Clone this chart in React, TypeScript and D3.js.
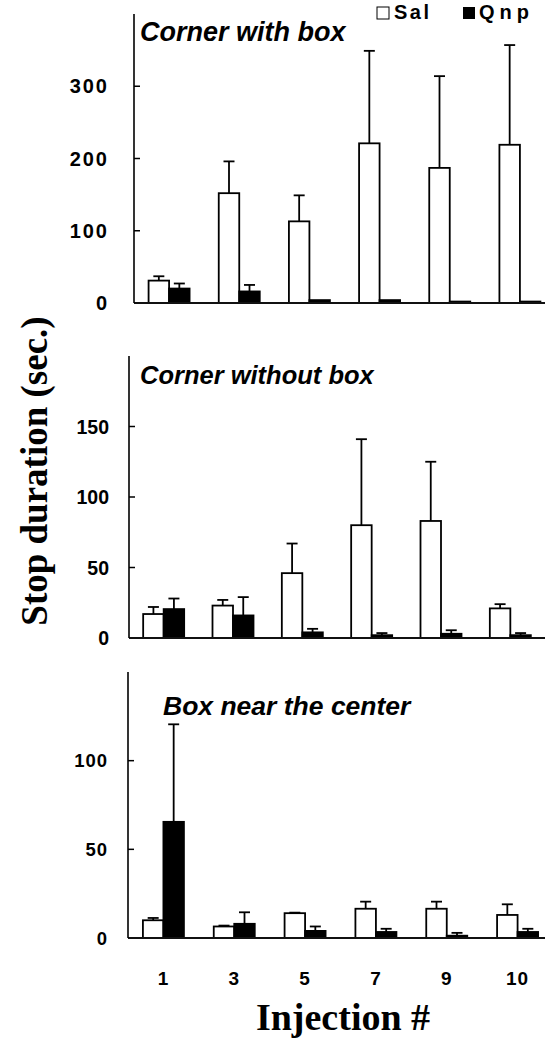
import React from "react";
import * as d3 from "d3";

const injections = ["1", "3", "5", "7", "9", "10"];
const seriesNames = ["Sal", "Qnp"];

const cornerBoxSal = [31, 152, 113, 221, 187, 219];
const cornerBoxSalErr = [6, 44, 36, 128, 127, 138];
const cornerBoxQnp = [20, 16, 4, 4, 2, 2];
const cornerBoxQnpErr = [7, 9, 0, 0, 0, 0];

const cornerNoBoxSal = [17, 23, 46, 80, 83, 21];
const cornerNoBoxSalErr = [5, 4, 21, 61, 42, 3];
const cornerNoBoxQnp = [20.5, 16, 4, 2, 3, 2];
const cornerNoBoxQnpErr = [7.5, 13, 2.5, 1.5, 2.5, 1.5];

const centerBoxSal = [10, 6.5, 14, 16.5, 16.5, 13];
const centerBoxSalErr = [1.3, 0.5, 0.3, 4, 4, 6];
const centerBoxQnp = [65.5, 8, 4, 3.4, 1.3, 3.4];
const centerBoxQnpErr = [55, 6.5, 2.5, 1.8, 1.6, 1.8];

const topTicks = [0, 100, 200, 300];
const midTicks = [0, 50, 100, 150];
const botTicks = [0, 50, 100];

const panels = [
  {
    title: "Corner with box",
    sal: cornerBoxSal, salErr: cornerBoxSalErr, qnp: cornerBoxQnp, qnpErr: cornerBoxQnpErr,
    ticks: topTicks, max: 400,
    x0: 134, x1: 555, yTop: 14, yBot: 303,
    titleX: 140, titleY: 41, titleSize: 27, labelSize: 20, labelRight: 109, labelSpacing: 2,
  },
  {
    title: "Corner without box",
    sal: cornerNoBoxSal, salErr: cornerNoBoxSalErr, qnp: cornerNoBoxQnp, qnpErr: cornerNoBoxQnpErr,
    ticks: midTicks, max: 200,
    x0: 129, x1: 545, yTop: 356, yBot: 638,
    titleX: 140, titleY: 384, titleSize: 25.5, labelSize: 19.5, labelRight: 109, labelSpacing: 0,
  },
  {
    title: "Box near the center",
    sal: centerBoxSal, salErr: centerBoxSalErr, qnp: centerBoxQnp, qnpErr: centerBoxQnpErr,
    ticks: botTicks, max: 150,
    x0: 128, x1: 553, yTop: 672, yBot: 938,
    titleX: 163, titleY: 715, titleSize: 26.5, labelSize: 18.5, labelRight: 108, labelSpacing: 1,
  },
];

const SANS = "'Liberation Sans', Arial, sans-serif";
const SERIF = "'Liberation Serif', 'Times New Roman', serif";

function Panel({ p, showX }: { p: any; showX: boolean }) {
  const x = d3.scaleBand<string>().domain(injections).range([p.x0, p.x1]);
  const y = d3.scaleLinear().domain([0, p.max]).range([p.yBot, p.yTop]);
  const bw = 20.5;
  const cap = 11;
  const bars: any[] = [];
  injections.forEach((inj, i) => {
    const c = (x(inj) as number) + x.bandwidth() / 2;
    const groups = [
      { v: p.sal[i], e: p.salErr[i], fill: "#fff", x: c - bw },
      { v: p.qnp[i], e: p.qnpErr[i], fill: "#000", x: c },
    ];
    groups.forEach((g, j) => {
      const cx = g.x + bw / 2;
      bars.push(
        <g key={inj + "-" + j}>
          {g.e > 0 && (
            <g stroke="#000" strokeWidth={1.8}>
              <line x1={cx} x2={cx} y1={y(g.v)} y2={y(g.v + g.e)} />
              <line x1={cx - cap / 2} x2={cx + cap / 2} y1={y(g.v + g.e)} y2={y(g.v + g.e)} />
            </g>
          )}
          <rect
            x={g.x}
            y={y(g.v)}
            width={bw}
            height={Math.max(0, p.yBot - y(g.v))}
            fill={g.fill}
            stroke="#000"
            strokeWidth={1.8}
          />
        </g>
      );
    });
  });
  return (
    <g>
      {bars}
      <line x1={p.x0} x2={545} y1={p.yBot} y2={p.yBot} stroke="#111" strokeWidth={2} />
      <line x1={p.x0} x2={p.x0} y1={p.yTop} y2={p.yBot} stroke="#000" strokeWidth={1.6} />
      {p.ticks.map((t: number) => (
        <g key={t}>
          {t > 0 && <line x1={p.x0} x2={p.x0 + 6} y1={y(t)} y2={y(t)} stroke="#000" strokeWidth={1.5} />}
          <text
            x={p.labelRight}
            y={y(t)}
            dy="0.36em"
            textAnchor="end"
            fontFamily={SANS}
            fontWeight="bold"
            fontSize={p.labelSize}
            letterSpacing={p.labelSpacing}
          >
            {t}
          </text>
        </g>
      ))}
      <text x={p.titleX} y={p.titleY} fontFamily={SANS} fontWeight="bold" fontStyle="italic" fontSize={p.titleSize}>
        {p.title}
      </text>
      {showX &&
        injections.map((inj) => (
          <text
            key={inj}
            x={(x(inj) as number) + x.bandwidth() / 2}
            y={978}
            dy="0.36em"
            textAnchor="middle"
            fontFamily={SANS}
            fontWeight="bold"
            fontSize={19}
            letterSpacing={1}
          >
            {inj}
          </text>
        ))}
    </g>
  );
}

export default function App() {
  return (
    <svg
      width={545}
      height={1039}
      style={{ position: "absolute", left: 0, top: 0, background: "#fff" }}
    >
      <rect x={0} y={0} width={545} height={1039} fill="#fff" />
      {panels.map((p, i) => (
        <Panel key={i} p={p} showX={i === 2} />
      ))}
      <g fontFamily={SANS} fontWeight="bold" fontSize={20}>
        <rect x={377} y={7} width={12} height={12} fill="#fff" stroke="#000" strokeWidth={1} />
        <text x={394} y={19} letterSpacing={2.5}>{seriesNames[0]}</text>
        <rect x={463} y={7} width={12} height={12} fill="#000" />
        <text x={479} y={19} letterSpacing={5}>{seriesNames[1]}</text>
      </g>
      <text
        transform="translate(47,471) rotate(-90)"
        textAnchor="middle"
        fontFamily={SERIF}
        fontWeight="bold"
        fontSize={37}
      >
        Stop duration (sec.)
      </text>
      <text x={343} y={1030} textAnchor="middle" fontFamily={SERIF} fontWeight="bold" fontSize={38}>
        Injection #
      </text>
    </svg>
  );
}
